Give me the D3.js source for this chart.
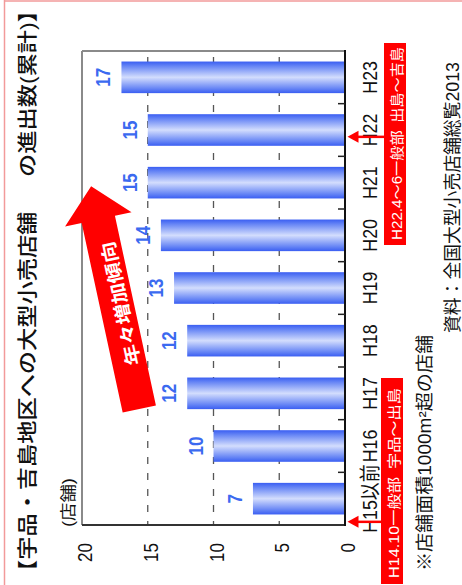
<!DOCTYPE html>
<html>
<head>
<meta charset="utf-8">
<script src="https://cdn.jsdelivr.net/npm/d3@7"></script>
<style>
  body { margin: 0; background: #fff; }
  svg { display: block; }
  text { font-family: "Liberation Sans", Arial, "Noto Sans CJK JP", sans-serif; }
</style>
</head>
<body>
<svg id="chart" width="462" height="585"></svg>
<script>
// ---- data ----
const categories = ["H15以前", "H16", "H17", "H18", "H19", "H20", "H21", "H22", "H23"];
const storeCounts = [7, 10, 12, 12, 13, 14, 15, 15, 17];
const valueTicks = [0, 5, 10, 15, 20];
const gridValues = [5, 10, 15];
const titleText = "【宇品・吉島地区への大型小売店舗　\u2002の進出数(累計)】";
const unitLabel = "(店舗)";
const trendLabel = "年々増加傾向";
const noteCategories = ["H15以前", "H22"];
const noteTexts = ["H14.10一般部\u2002宇品～出島", "H22.4～6一般部\u2002出島～吉島"];
const footnote = "※店舗面積1000m²超の店舗";
const sourceText = "資料：全国大型小売店舗総覧2013";

// ---- drawing ----
const W = 462, H = 585;
const svg = d3.select("#chart");

// page frame (light red rule on the left and top)
svg.append("line").attr("x1", 4.5).attr("y1", 0).attr("x2", 4.5).attr("y2", H)
  .attr("stroke", "#f29a9a").attr("stroke-width", 1.5);
svg.append("line").attr("x1", 4).attr("y1", 1).attr("x2", W).attr("y2", 1)
  .attr("stroke", "#f29a9a").attr("stroke-width", 1.5);

// The whole chart is laid out sideways: u runs along the page upward, v runs left-to-right.
const g = svg.append("g").attr("transform", `translate(0,${H}) rotate(-90)`);

const defs = svg.append("defs");
const grad = defs.append("linearGradient").attr("id", "barGrad")
  .attr("x1", 0).attr("y1", 0).attr("x2", 1).attr("y2", 0);
[[0, "#3a5ef2"], [0.14, "#6584f5"], [0.5, "#d3ddfd"], [0.86, "#6584f5"], [1, "#3a5ef2"]]
  .forEach(([o, c]) => grad.append("stop").attr("offset", o).attr("stop-color", c));

const x = d3.scaleBand().domain(categories).range([60, 534]).paddingInner(0.4).paddingOuter(0.2);
const y = d3.scaleLinear().domain([0, 20]).range([345, 82]);

function place(sel, u, v, sx) {
  return sel.attr("transform", (d, i) => `translate(${u(d, i)},${v(d, i)}) scale(${sx},1)`);
}

// dashed grid
g.selectAll("line.grid").data(gridValues).join("line").attr("class", "grid")
  .attr("x1", 528).attr("x2", 60).attr("y1", d => y(d)).attr("y2", d => y(d))
  .attr("stroke", "#555").attr("stroke-width", 1.3).attr("stroke-dasharray", "7,9");

// bars
const rows = categories.map((c, i) => ({ c, v: storeCounts[i] }));
g.selectAll("rect.bar").data(rows).join("rect").attr("class", "bar")
  .attr("x", d => x(d.c)).attr("width", x.bandwidth())
  .attr("y", d => y(d.v)).attr("height", d => y(0) - y(d.v))
  .attr("fill", "url(#barGrad)");

// plot frame
g.append("line").attr("x1", 60).attr("x2", 534).attr("y1", y(20)).attr("y2", y(20))
  .attr("stroke", "#8a8a8a").attr("stroke-width", 2);
g.append("line").attr("x1", 534).attr("x2", 534).attr("y1", y(20)).attr("y2", y(0))
  .attr("stroke", "#8a8a8a").attr("stroke-width", 2);
g.append("line").attr("x1", 60).attr("x2", 60).attr("y1", y(20)).attr("y2", y(0) + 1)
  .attr("stroke", "#333").attr("stroke-width", 2);
g.append("line").attr("x1", 59).attr("x2", 535).attr("y1", y(0)).attr("y2", y(0))
  .attr("stroke", "#111").attr("stroke-width", 2);

// category ticks between bands
const gap = x.step() * x.paddingInner() / 2;
g.selectAll("line.ctick").data(categories.slice(1)).join("line").attr("class", "ctick")
  .attr("x1", d => x(d) - gap).attr("x2", d => x(d) - gap)
  .attr("y1", y(0) - 7).attr("y2", y(0))
  .attr("stroke", "#222").attr("stroke-width", 1.5);

// value labels
place(g.selectAll("text.val").data(rows).join("text").attr("class", "val"),
  d => x(d.c) + x.bandwidth() / 2, d => y(d.v) - 11, 0.85)
  .attr("text-anchor", "middle").attr("font-size", 20).attr("font-weight", "bold")
  .attr("fill", "#3b6af0").text(d => d.v);

// category labels
place(g.selectAll("text.cat").data(categories).join("text").attr("class", "cat"),
  d => x(d) + x.bandwidth() / 2, () => 377, 0.85)
  .attr("text-anchor", "middle").attr("font-size", 21).attr("fill", "#111").text(d => d);

// value axis labels
place(g.selectAll("text.tick").data(valueTicks).join("text").attr("class", "tick"),
  () => 42, d => y(d) + 10, 0.85)
  .attr("text-anchor", "end").attr("font-size", 20).attr("fill", "#111").text(d => d);

// unit
g.append("text").attr("x", 58).attr("y", 74).attr("font-size", 16).attr("fill", "#111")
  .attr("textLength", 49).attr("lengthAdjust", "spacingAndGlyphs").text(unitLabel);

// title
g.append("text").attr("x", 2).attr("y", 35).attr("font-size", 20).attr("font-weight", 500)
  .attr("fill", "#111").attr("textLength", 584).attr("lengthAdjust", "spacingAndGlyphs")
  .text(titleText);

// trend arrow
const arrow = g.append("g").attr("transform", "translate(176,139.3) rotate(-12.2)");
const L = 228, sw = 17, hw = 34, hl = 34;
arrow.append("polygon")
  .attr("points", [[0, -sw], [L - hl, -sw], [L - hl, -hw], [L, 0], [L - hl, hw], [L - hl, sw], [0, sw]].join(" "))
  .attr("fill", "#ff0000");
arrow.append("text").attr("x", 107).attr("y", 4.7).attr("dominant-baseline", "central")
  .attr("text-anchor", "middle").attr("font-size", 18).attr("font-weight", "bold")
  .attr("fill", "#fff").attr("textLength", 126).attr("lengthAdjust", "spacingAndGlyphs")
  .text(trendLabel);

// event notes
const noteLayout = [
  { frac: 0.06, u0: 1, u1: 207, v0: 381, v1: 403, tu: 7, tl: 190 },
  { frac: 0.37, u0: 340, u1: 542, v0: 384, v1: 406, tu: 345, tl: 193 }
];
noteCategories.forEach((c, i) => {
  const L2 = noteLayout[i];
  const u = x(c) - x.step() * x.paddingOuter() + x.step() * L2.frac;
  g.append("rect").attr("x", L2.u0).attr("y", L2.v0).attr("width", L2.u1 - L2.u0)
    .attr("height", L2.v1 - L2.v0).attr("fill", "#ff0000");
  g.append("text").attr("x", L2.tu).attr("y", L2.v1 - 4).attr("font-size", 14).attr("fill", "#fff")
    .attr("textLength", L2.tl).attr("lengthAdjust", "spacingAndGlyphs").text(noteTexts[i]);
  const tip = y(0) + 2.5;
  g.append("line").attr("x1", u).attr("x2", u).attr("y1", L2.v0).attr("y2", tip + 9)
    .attr("stroke", "#ff0000").attr("stroke-width", 2.5);
  g.append("polygon").attr("points", [[u, tip], [u - 6, tip + 11], [u + 6, tip + 11]].join(" "))
    .attr("fill", "#ff0000");
});

// footnote and source
g.append("text").attr("x", 14).attr("y", 431).attr("font-size", 18).attr("fill", "#111")
  .attr("textLength", 236).attr("lengthAdjust", "spacingAndGlyphs").text(footnote);
g.append("text").attr("x", 252).attr("y", 459).attr("font-size", 18).attr("fill", "#111")
  .attr("textLength", 271).attr("lengthAdjust", "spacingAndGlyphs").text(sourceText);
</script>
</body>
</html>
